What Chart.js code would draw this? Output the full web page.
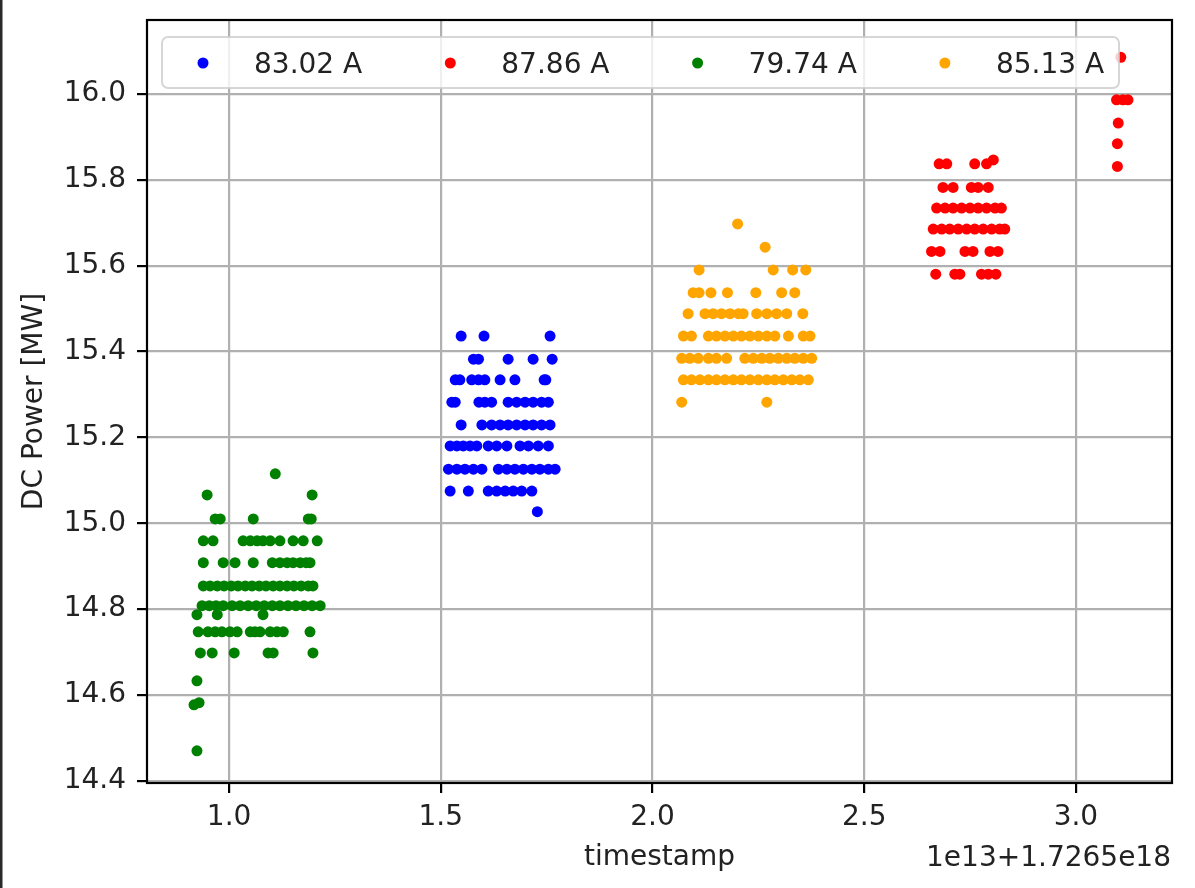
<!DOCTYPE html>
<html>
<head>
<meta charset="utf-8">
<script src="https://cdn.jsdelivr.net/npm/chart.js@4.4.0/dist/chart.umd.min.js"></script>
<style>
  html, body { margin: 0; padding: 0; background: #fff; }
</style>
</head>
<body>
<canvas id="powerChart" width="1195" height="888"></canvas>
<script>
// timestamp (units of 1e13, offset 1.7265e18) vs DC power [MW]
const legendLabels = ['83.02 A', '87.86 A', '79.74 A', '85.13 A'];

const blue = [
  [1.548, 15.436], [1.602, 15.436], [1.758, 15.436],
  [1.577, 15.382], [1.589, 15.382], [1.659, 15.382], [1.718, 15.382], [1.763, 15.382],
  [1.534, 15.334], [1.545, 15.334], [1.573, 15.334], [1.589, 15.334], [1.604, 15.334],
  [1.640, 15.334], [1.675, 15.334], [1.744, 15.334], [1.748, 15.334],
  [1.526, 15.282], [1.534, 15.282], [1.590, 15.282], [1.604, 15.282], [1.620, 15.282],
  [1.659, 15.282], [1.679, 15.282], [1.699, 15.282], [1.718, 15.282], [1.738, 15.282], [1.754, 15.282],
  [1.548, 15.229], [1.597, 15.229], [1.620, 15.229], [1.640, 15.229], [1.659, 15.229],
  [1.679, 15.229], [1.699, 15.229], [1.718, 15.229], [1.738, 15.229], [1.758, 15.229],
  [1.522, 15.180], [1.538, 15.180], [1.553, 15.180], [1.569, 15.180], [1.585, 15.180], [1.612, 15.180],
  [1.632, 15.180], [1.656, 15.180], [1.687, 15.180], [1.707, 15.180], [1.730, 15.180], [1.754, 15.180],
  [1.518, 15.126], [1.538, 15.126], [1.557, 15.126], [1.577, 15.126], [1.597, 15.126], [1.636, 15.126],
  [1.656, 15.126], [1.675, 15.126], [1.695, 15.126], [1.715, 15.126], [1.734, 15.126], [1.754, 15.126], [1.770, 15.126],
  [1.522, 15.075], [1.565, 15.075], [1.612, 15.075], [1.632, 15.075], [1.652, 15.075],
  [1.671, 15.075], [1.691, 15.075], [1.715, 15.075],
  [1.728, 15.027]
];

const red = [
  [2.805, 15.846],
  [2.677, 15.837], [2.695, 15.837], [2.761, 15.837], [2.789, 15.837],
  [2.686, 15.782], [2.710, 15.782], [2.753, 15.782], [2.769, 15.782], [2.793, 15.782],
  [2.671, 15.734], [2.691, 15.734], [2.710, 15.734], [2.730, 15.734], [2.750, 15.734],
  [2.769, 15.734], [2.789, 15.734], [2.809, 15.734], [2.824, 15.734],
  [2.663, 15.685], [2.683, 15.685], [2.702, 15.685], [2.722, 15.685], [2.742, 15.685],
  [2.761, 15.685], [2.781, 15.685], [2.801, 15.685], [2.820, 15.685], [2.832, 15.685],
  [2.659, 15.633], [2.679, 15.633], [2.738, 15.633], [2.757, 15.633], [2.797, 15.633], [2.816, 15.633],
  [2.669, 15.580], [2.714, 15.580], [2.726, 15.580], [2.777, 15.580], [2.793, 15.580], [2.811, 15.580],
  [3.106, 16.085],
  [3.096, 15.986], [3.111, 15.986], [3.123, 15.986],
  [3.100, 15.932], [3.098, 15.884], [3.098, 15.831]
];

const green = [
  [1.109, 15.115],
  [0.948, 15.066], [1.196, 15.066],
  [0.967, 15.010], [0.979, 15.010], [1.057, 15.010], [1.187, 15.010], [1.194, 15.010],
  [0.939, 14.959], [0.962, 14.959], [1.033, 14.959], [1.050, 14.959], [1.066, 14.959], [1.080, 14.959],
  [1.097, 14.959], [1.120, 14.959], [1.151, 14.959], [1.175, 14.959], [1.208, 14.959],
  [0.939, 14.908], [0.986, 14.908], [1.014, 14.908], [1.057, 14.908], [1.102, 14.908], [1.120, 14.908],
  [1.137, 14.908], [1.151, 14.908], [1.168, 14.908], [1.182, 14.908], [1.191, 14.908],
  [0.939, 14.854], [0.955, 14.854], [0.972, 14.854], [0.988, 14.854], [1.005, 14.854], [1.021, 14.854],
  [1.038, 14.854], [1.054, 14.854], [1.071, 14.854], [1.087, 14.854], [1.104, 14.854], [1.120, 14.854],
  [1.137, 14.854], [1.153, 14.854], [1.170, 14.854], [1.187, 14.854], [1.198, 14.854],
  [0.936, 14.808], [0.953, 14.808], [0.969, 14.808], [0.986, 14.808], [1.007, 14.808], [1.026, 14.808],
  [1.045, 14.808], [1.064, 14.808], [1.083, 14.808], [1.102, 14.808], [1.120, 14.808], [1.139, 14.808],
  [1.158, 14.808], [1.177, 14.808], [1.196, 14.808], [1.215, 14.808],
  [0.924, 14.787], [0.972, 14.787], [1.080, 14.787],
  [0.927, 14.747], [0.950, 14.747], [0.967, 14.747], [0.983, 14.747], [1.002, 14.747], [1.019, 14.747],
  [1.050, 14.747], [1.061, 14.747], [1.073, 14.747], [1.097, 14.747], [1.113, 14.747], [1.128, 14.747], [1.191, 14.747],
  [0.932, 14.698], [0.960, 14.698], [1.012, 14.698], [1.092, 14.698], [1.104, 14.698], [1.198, 14.698],
  [0.924, 14.633],
  [0.917, 14.577], [0.929, 14.582],
  [0.924, 14.470]
];

const orange = [
  [2.201, 15.697],
  [2.266, 15.643],
  [2.110, 15.590], [2.285, 15.590], [2.331, 15.590], [2.362, 15.590],
  [2.096, 15.537], [2.110, 15.537], [2.138, 15.537], [2.177, 15.537], [2.244, 15.537], [2.305, 15.537], [2.336, 15.537],
  [2.084, 15.488], [2.124, 15.488], [2.143, 15.488], [2.163, 15.488], [2.183, 15.488], [2.203, 15.488],
  [2.214, 15.488], [2.246, 15.488], [2.270, 15.488], [2.293, 15.488], [2.317, 15.488], [2.355, 15.488],
  [2.073, 15.436], [2.092, 15.436], [2.132, 15.436], [2.151, 15.436], [2.171, 15.436], [2.191, 15.436], [2.210, 15.436],
  [2.230, 15.436], [2.250, 15.436], [2.270, 15.436], [2.289, 15.436], [2.321, 15.436], [2.356, 15.436], [2.372, 15.436],
  [2.069, 15.384], [2.088, 15.384], [2.108, 15.384], [2.132, 15.384], [2.151, 15.384], [2.175, 15.384],
  [2.218, 15.384], [2.238, 15.384], [2.258, 15.384], [2.277, 15.384], [2.297, 15.384], [2.317, 15.384],
  [2.336, 15.384], [2.356, 15.384], [2.376, 15.384],
  [2.073, 15.334], [2.092, 15.334], [2.112, 15.334], [2.132, 15.334], [2.151, 15.334], [2.171, 15.334],
  [2.191, 15.334], [2.210, 15.334], [2.230, 15.334], [2.250, 15.334], [2.270, 15.334], [2.289, 15.334],
  [2.309, 15.334], [2.329, 15.334], [2.348, 15.334], [2.368, 15.334],
  [2.069, 15.282], [2.270, 15.282]
];

const xTicks = [1.0, 1.5, 2.0, 2.5, 3.0];
const yTicks = [14.4, 14.6, 14.8, 15.0, 15.2, 15.4, 15.6, 15.8, 16.0];
const xRange = [0.806, 3.227];
const yRange = [14.395, 16.172];

const FONT = "'DejaVu Sans', sans-serif";
Chart.defaults.font.family = FONT;
Chart.defaults.font.size = 28;
Chart.defaults.color = '#000';

const colors = ['#0000ff', '#ff0000', '#008000', '#ffa500'];
const toPoints = arr => arr.map(([x, y]) => ({ x, y }));

const gridStyle = {
    color: '#b0b0b0',
    lineWidth: 2.2,
    tickColor: '#000',
    tickWidth: 2.2,
    tickLength: 10
};

// axes frame, offset label, legend box
const decorations = {
    id: 'decorations',
    afterDraw(chart) {
        const { ctx, chartArea: a } = chart;
        ctx.save();

        ctx.fillStyle = '#2a2a2a';
        ctx.fillRect(0, 0, 2.5, chart.height);

        ctx.strokeStyle = '#000';
        ctx.lineWidth = 2.2;
        ctx.strokeRect(a.left, a.top, a.right - a.left, a.bottom - a.top);

        ctx.font = `28px ${FONT}`;
        ctx.fillStyle = '#222';
        ctx.textAlign = 'right';
        ctx.textBaseline = 'alphabetic';
        ctx.fillText('1e13+1.7265e18', a.right - 1, 866);

        // legend
        const bx = 162, by = 37, bw = 957, bh = 51;
        ctx.globalAlpha = 0.8;
        ctx.beginPath();
        ctx.roundRect(bx, by, bw, bh, 6);
        ctx.fillStyle = '#fff';
        ctx.fill();
        ctx.strokeStyle = '#cccccc';
        ctx.lineWidth = 2;
        ctx.stroke();
        ctx.globalAlpha = 1;

        ctx.textAlign = 'left';
        ctx.textBaseline = 'middle';
        chart.data.datasets.forEach((ds, i) => {
            const mx = 203 + i * 247.3;
            ctx.beginPath();
            ctx.arc(mx, 63, 5.5, 0, Math.PI * 2);
            ctx.fillStyle = ds.backgroundColor;
            ctx.fill();
            ctx.fillStyle = '#222';
            ctx.fillText(ds.label, mx + 51, 65.5);
        });

        ctx.restore();
    }
};

new Chart(document.getElementById('powerChart'), {
    type: 'scatter',
    data: {
        datasets: [blue, red, green, orange].map((pts, i) => ({
            label: legendLabels[i],
            data: toPoints(pts),
            backgroundColor: colors[i],
            borderWidth: 0
        }))
    },
    options: {
        responsive: false,
        animation: false,
        layout: { padding: { top: 20, right: 23, left: 0, bottom: 0 } },
        elements: { point: { radius: 5.5, hoverRadius: 5.5, borderWidth: 0 } },
        plugins: { legend: { display: false }, tooltip: { enabled: false } },
        scales: {
            x: {
                type: 'linear',
                min: xRange[0],
                max: xRange[1],
                z: 1,
                afterFit: s => { s.height = 105; s.paddingLeft = 0; s.paddingRight = 0; },
                afterBuildTicks: s => { s.ticks = xTicks.map(v => ({ value: v })); },
                grid: gridStyle,
                border: { display: false },
                ticks: { padding: 8, maxRotation: 0, color: '#222', callback: v => v.toFixed(1) },
                title: { display: true, text: 'timestamp', color: '#222', padding: { top: 0, bottom: 13 } }
            },
            y: {
                type: 'linear',
                min: yRange[0],
                max: yRange[1],
                z: 1,
                afterFit: s => { s.width = 147; s.paddingTop = 0; s.paddingBottom = 0; },
                afterBuildTicks: s => { s.ticks = yTicks.map(v => ({ value: v })); },
                grid: gridStyle,
                border: { display: false },
                ticks: { padding: 11, color: '#222', callback: v => v.toFixed(1) },
                title: { display: true, text: 'DC Power [MW]', color: '#222', padding: { top: 18, bottom: 0 } }
            }
        }
    },
    plugins: [decorations]
});
</script>
</body>
</html>
